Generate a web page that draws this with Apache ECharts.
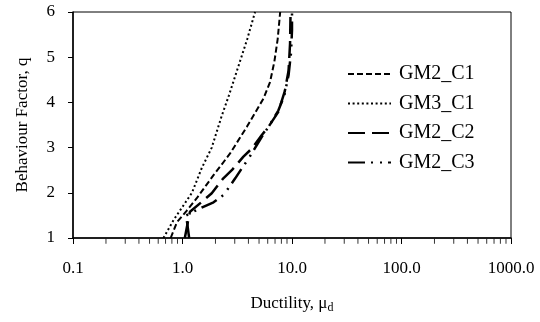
<!DOCTYPE html>
<html>
<head>
<meta charset="utf-8">
<script src="https://cdn.jsdelivr.net/npm/echarts@6/dist/echarts.min.js"></script>
<style>
  html, body { margin: 0; padding: 0; background: #fff; }
  #chart { width: 540px; height: 322px; }
</style>
</head>
<body>
<div id="chart"></div>
<script>
// curves: [ductility, behaviour factor q]
var gm2c1 = [[0.78, 1.0], [0.89, 1.35], [1.09, 1.6], [1.35, 1.88], [1.92, 2.39], [2.72, 2.87],
             [3.87, 3.46], [5.5, 4.09], [6.3, 4.45], [6.9, 4.9], [7.4, 5.4], [7.8, 6.0]];
var gm3c1 = [[0.67, 1.0], [0.83, 1.4], [1.22, 2.0], [1.5, 2.55], [1.85, 3.0], [2.28, 3.7], [2.65, 4.15],
             [3.24, 4.8], [3.9, 5.4], [4.6, 6.0]];
var gm2c2 = [[1.05, 1.0], [1.15, 1.5], [1.17, 1.58], [1.5, 1.8], [1.85, 1.99], [2.36, 2.32], [2.82, 2.5],
             [3.6, 2.8], [4.3, 2.98], [5.3, 3.28], [6.1, 3.46], [7.5, 3.79], [8.6, 4.25], [9.3, 4.7],
             [9.6, 5.3], [9.7, 6.0]];
var gm2c3 = [[1.15, 1.0], [1.08, 1.5], [1.2, 1.56], [1.55, 1.69], [1.92, 1.79], [2.37, 1.95], [3.03, 2.32],
             [3.5, 2.55], [4.0, 2.75], [5.3, 3.24], [6.1, 3.46], [7.5, 3.82], [8.5, 4.15], [9.3, 4.6],
             [9.8, 5.1], [10.0, 5.6], [10.0, 6.0]];
var seriesNames = ['GM2_C1', 'GM3_C1', 'GM2_C2', 'GM2_C3'];
var majorTicks = [0.1, 1, 10, 100, 1000];
var minorSteps = [2, 3, 4, 5, 6, 7, 8, 9];

// minor tick positions of the log axis (drawn as tiny marks on the axis line)
var minorTicks = [];
majorTicks.slice(0, -1).forEach(function (d) {
    minorSteps.forEach(function (m) { minorTicks.push([d * m, 1]); });
});

var font = 'Liberation Serif';
var chart = echarts.init(document.getElementById('chart'));

function line(name, data, dash, width) {
    return {
        name: name,
        type: 'line',
        data: data,
        symbol: 'none',
        lineStyle: { color: '#000', width: width, type: dash, cap: 'butt' },
        itemStyle: { color: '#000' }
    };
}

chart.setOption({
    animation: false,
    backgroundColor: '#fff',
    grid: { left: 73, right: 29, top: 12, bottom: 84, show: true, borderColor: '#000', borderWidth: 1 },
    legend: {
        orient: 'vertical',
        left: 347,
        top: 64,
        itemWidth: 43,
        itemHeight: 14,
        itemGap: 9.5,
        padding: 0,
        data: seriesNames,
        itemStyle: { opacity: 0 },
        textStyle: { fontFamily: font, fontSize: 20, color: '#000', lineHeight: 18, padding: [0, 0, 0, 3] }
    },
    xAxis: {
        type: 'log',
        logBase: 10,
        min: 0.1,
        max: 1000,
        name: 'Ductility, μ{sub|d}',
        nameLocation: 'middle',
        nameGap: 56,
        nameTextStyle: {
            fontFamily: font, fontSize: 17, color: '#000',
            rich: { sub: { fontFamily: font, fontSize: 12, verticalAlign: 'bottom', padding: [8, 0, 0, 0] } }
        },
        axisLine: { lineStyle: { color: '#000', width: 1.5 } },
        axisTick: { show: true, inside: false, length: 6, lineStyle: { color: '#000' } },
        axisLabel: {
            fontFamily: font, fontSize: 17, color: '#000', margin: 22,
            formatter: function (v) { return Number(v).toFixed(1); }
        },
        splitLine: { show: false }
    },
    yAxis: {
        type: 'value',
        min: 1,
        max: 6,
        interval: 1,
        name: 'Behaviour Factor, q',
        nameLocation: 'middle',
        nameGap: 42,
        nameTextStyle: { fontFamily: font, fontSize: 17, color: '#000' },
        axisLine: { show: true, onZero: false, lineStyle: { color: '#000', width: 1.5 } },
        axisTick: { show: true, inside: false, length: 5, lineStyle: { color: '#000' } },
        axisLabel: { fontFamily: font, fontSize: 17, color: '#000', margin: 18 },
        splitLine: { show: false }
    },
    series: [
        line(seriesNames[0], gm2c1, [6, 3], 2),
        line(seriesNames[1], gm3c1, [2, 2.6], 2),
        line(seriesNames[2], gm2c2, [17, 7], 2.5),
        line(seriesNames[3], gm2c3, [17, 6, 2, 7, 2, 6], 2.5),
        {
            name: 'minor ticks',
            type: 'scatter',
            data: minorTicks,
            symbol: 'rect',
            symbolSize: [1, 5],
            symbolOffset: [0, 3.2],
            clip: false,
            silent: true,
            itemStyle: { color: '#000' }
        }
    ]
});
</script>
</body>
</html>
